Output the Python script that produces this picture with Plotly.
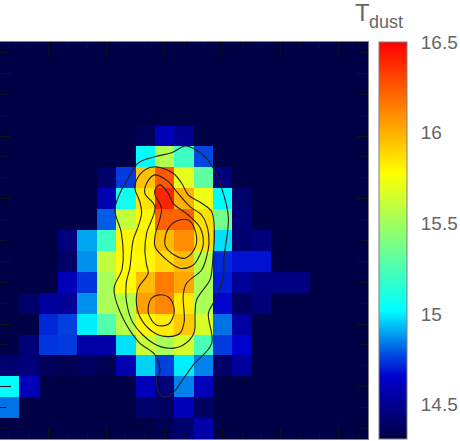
import plotly.graph_objects as go

B = 14.31  # background level

# rows run top to bottom, columns left to right
T_DUST = [
    [B] * 19,
    [B] * 19,
    [B] * 19,
    [B] * 19,
    [B, B, B, B, B, B, B, 14.35, 14.6, 14.5, B, B, B, B, B, B, B, B, B],
    [B, B, B, B, B, B, B, 15.02, 15.55, 15.2, 14.77, B, B, B, B, B, B, B, B],
    [B, B, B, B, B, 14.4, 14.75, 15.95, 16.25, 15.7, 15.3, 14.45, B, B, B, B, B, B, B],
    [B, B, B, B, B, 14.58, 15.07, 15.85, 16.4, 16.0, 15.73, 15.02, 14.4, B, B, B, B, B, B],
    [B, B, B, B, B, 14.8, 15.6, 15.8, 16.22, 16.22, 15.87, 15.37, 14.43, B, B, B, B, B, B],
    [B, B, B, 14.45, 14.9, 15.2, 15.8, 15.81, 15.97, 16.1, 15.87, 14.98, 14.42, 14.45, B, B, B, B, B],
    [B, B, B, 14.39, 14.87, 15.6, 15.79, 15.8, 15.88, 15.97, 15.57, 14.72, 14.68, 14.68, B, B, B, B, B],
    [B, B, B, 14.6, 14.74, 15.52, 15.79, 15.97, 16.15, 16.03, 15.53, 14.7, 14.52, 14.46, 14.46, 14.46, B, B, B],
    [B, 14.4, 14.53, 14.52, 14.87, 15.53, 15.56, 16.05, 16.12, 15.84, 15.53, 14.66, 14.37, 14.44, B, B, B, B, B],
    [B, B, 14.72, 14.76, 15.0, 15.27, 15.56, 15.8, 15.83, 15.93, 15.66, 14.83, 14.54, B, B, B, B, B, B],
    [B, 14.44, 14.74, 14.75, 14.55, 14.55, 14.98, 15.62, 15.52, 15.65, 15.24, 14.75, 14.65, B, B, B, B, B, B],
    [14.42, 14.45, 14.36, 14.34, 14.38, 14.34, 14.58, 14.96, 14.76, 15.0, 14.85, 14.39, 14.53, B, B, B, B, B, B],
    [15.02, 14.6, B, B, B, B, B, 14.6, 14.44, 14.85, 14.6, B, B, B, B, B, B, B, B],
    [14.83, B, B, B, B, B, B, 14.4, 14.38, 14.6, 14.38, B, B, B, B, B, B, B, B],
    [B, B, B, B, B, B, B, B, 14.34, 14.42, 14.56, B, B, B, B, B, B, B, B],
]

OUTER_X = [9.05, 9.48, 10.08, 10.51, 11.03, 11.29, 11.24, 11.07, 11.03, 10.6, 10.26, 10.43, 9.48, 9.05, 8.27, 7.93, 7.67, 7.58, 7.76, 7.5, 6.64, 5.69, 5.39, 5.81, 5.77, 5.43, 5.69, 6.12, 6.63, 7.5, 8.36, 9.05]
OUTER_Y = [4.48, 4.59, 4.99, 5.54, 6.74, 7.86, 8.66, 9.77, 10.73, 11.84, 12.48, 13.92, 14.95, 15.51, 16.44, 16.47, 16.23, 15.59, 15.27, 14.48, 13.84, 12.4, 11.29, 10.33, 8.66, 7.54, 6.74, 6.02, 5.3, 4.99, 4.8, 4.48]
C3_X = [6.55, 6.98, 7.5, 8.44, 8.88, 9.22, 9.91, 10.43, 10.57, 10.51, 10.43, 10.34, 9.65, 9.57, 9.51, 8.96, 8.27, 7.41, 6.38, 6.03, 6.03, 6.2, 6.38, 6.63, 6.81, 6.72, 6.46, 6.55]
C3_Y = [6.1, 5.62, 5.47, 5.78, 6.26, 6.82, 7.22, 7.62, 8.66, 9.61, 10.49, 10.89, 11.84, 12.48, 13.44, 14.0, 14.16, 13.92, 12.96, 11.92, 10.97, 10.33, 8.97, 8.34, 7.7, 7.14, 6.5, 6.1]
C2_X = [7.07, 7.5, 8.19, 8.62, 9.31, 9.91, 10.22, 10.29, 10.17, 9.91, 9.13, 8.96, 9.01, 8.79, 8.19, 7.5, 6.81, 6.55, 6.63, 7.15, 7.07, 6.98, 7.07, 7.5, 6.98, 7.07]
C2_Y = [6.26, 5.86, 6.18, 6.66, 7.38, 7.78, 8.42, 9.13, 9.77, 10.41, 11.05, 11.6, 12.88, 13.44, 13.6, 13.44, 12.8, 12.08, 11.29, 10.57, 10.17, 9.45, 8.66, 7.38, 6.74, 6.26]
C1_X = [7.76, 8.19, 8.44, 9.22, 9.82, 10.0, 9.82, 9.48, 8.79, 8.01, 7.5, 7.5, 7.84, 7.5, 7.5, 7.76]
C1_Y = [6.34, 6.74, 7.22, 7.78, 8.37, 9.13, 9.69, 10.17, 10.33, 9.85, 9.29, 8.81, 7.46, 6.82, 6.58, 6.34]
PEAK_R_X = [8.01, 8.19, 8.62, 9.22, 9.57, 9.6, 9.05, 8.36, 8.05, 8.01]
PEAK_R_Y = [8.97, 8.42, 8.07, 8.02, 8.5, 9.29, 9.85, 9.61, 9.29, 8.97]
PEAK_L_X = [7.15, 7.32, 7.76, 8.27, 8.5, 8.19, 7.58, 7.19, 7.15]
PEAK_L_Y = [12.24, 11.77, 11.6, 11.77, 12.4, 13.01, 13.04, 12.56, 12.24]
CONTOURS = [
    (OUTER_X, OUTER_Y),
    (C3_X, C3_Y),
    (C2_X, C2_Y),
    (C1_X, C1_Y),
    (PEAK_R_X, PEAK_R_Y),
    (PEAK_L_X, PEAK_L_Y),
]

CBAR_TICKS = [14.5, 15, 15.5, 16, 16.5]
CBAR_LABELS = ["14.5", "15", "15.5", "16", "16.5"]

COLORSCALE = [
    [0.0, "rgb(0,0,70)"],
    [0.156, "rgb(0,0,205)"],
    [0.21, "rgb(0,70,225)"],
    [0.325, "rgb(0,255,255)"],
    [0.5, "rgb(128,255,128)"],
    [0.67, "rgb(255,255,0)"],
    [1.0, "rgb(255,0,0)"],
]

TEXT_COLOR = "#666666"
FRAME_COLOR = "#808080"
TICK_COLOR = "#111111"

fig = go.Figure()
fig.add_trace(
    go.Heatmap(
        z=T_DUST,
        zmin=14.31,
        zmax=16.5,
        colorscale=COLORSCALE,
        hoverinfo="skip",
        colorbar=dict(
            x=1.03,
            xanchor="left",
            xpad=0,
            y=0.5,
            ypad=0,
            len=1,
            thickness=28,
            outlinecolor=FRAME_COLOR,
            outlinewidth=1,
            tickmode="array",
            tickvals=CBAR_TICKS,
            ticktext=CBAR_LABELS,
            ticks="outside",
            ticklen=10,
            tickcolor="rgba(0,0,0,0)",
            tickfont=dict(family="Liberation Sans", size=19, color=TEXT_COLOR),
        ),
    )
)

for xs, ys in CONTOURS:
    fig.add_trace(
        go.Scatter(
            x=xs,
            y=ys,
            mode="lines",
            line=dict(color="#222222", width=1.1, shape="spline", smoothing=1),
            hoverinfo="skip",
            showlegend=False,
        )
    )

fig.add_annotation(
    text="T",
    xref="paper",
    yref="paper",
    x=0.984,
    y=1.074,
    xanchor="center",
    yanchor="middle",
    showarrow=False,
    font=dict(family="Liberation Sans", size=24, color=TEXT_COLOR),
)
fig.add_annotation(
    text="dust",
    xref="paper",
    yref="paper",
    x=1.049,
    y=1.05,
    xanchor="center",
    yanchor="middle",
    showarrow=False,
    font=dict(family="Liberation Sans", size=18, color=TEXT_COLOR),
)

axis_style = dict(
    showticklabels=False,
    showgrid=False,
    zeroline=False,
    showline=True,
    linecolor=FRAME_COLOR,
    linewidth=1,
    mirror="allticks",
    ticks="inside",
    ticklen=11,
    tickwidth=1,
    tickcolor=TICK_COLOR,
    layer="above traces",
)

fig.update_xaxes(
    range=[-0.5, 18.5],
    tickvals=[2, 5, 8, 11, 14, 17],
    minor=dict(
        tickvals=[0, 1, 3, 4, 6, 7, 9, 10, 12, 13, 15, 16, 18],
        ticks="inside",
        ticklen=6,
        tickwidth=1,
        tickcolor=TICK_COLOR,
    ),
    **axis_style,
)
fig.update_yaxes(
    range=[18.5, -0.5],
    tickvals=[1, 4, 7, 10, 13, 16],
    minor=dict(
        tickvals=[0, 2, 3, 5, 6, 8, 9, 11, 12, 14, 15, 17, 18],
        ticks="inside",
        ticklen=6,
        tickwidth=1,
        tickcolor=TICK_COLOR,
    ),
    **axis_style,
)

fig.update_layout(
    width=460,
    height=441,
    margin=dict(l=0, r=92, t=42, b=2, autoexpand=False),
    paper_bgcolor="#ffffff",
    plot_bgcolor="#000046",
    showlegend=False,
)

fig.write_html(
    "out.html",
    config={"displayModeBar": False},
    post_script="document.body.style.margin='0';",
)
